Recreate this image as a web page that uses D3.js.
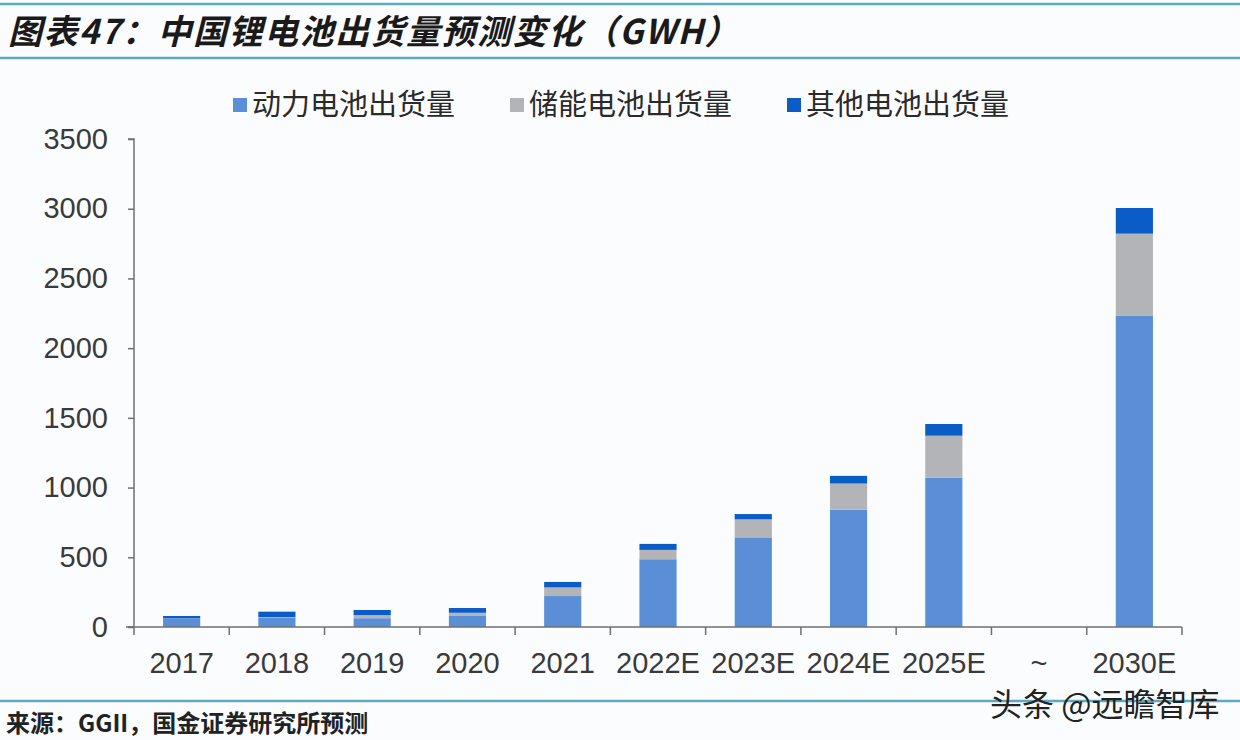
<!DOCTYPE html>
<html>
<head>
<meta charset="utf-8">
<script src="https://cdn.jsdelivr.net/npm/d3@7"></script>
<style>
  html, body { margin: 0; padding: 0; background: #fbfcfe; }
  svg { display: block; }
  text { font-family: "Liberation Sans", Arial, sans-serif; }
  .cjk { font-family: "Noto Sans CJK SC", sans-serif; }
</style>
</head>
<body>
<svg id="chart" width="1240" height="740"></svg>
<script>
const categories = ["2017","2018","2019","2020","2021","2022E","2023E","2024E","2025E","~","2030E"];
const powerBattery   = [58, 65, 63, 83, 222, 486, 643, 842, 1071, null, 2231];
const storageBattery = [3, 6, 22, 19, 62, 67, 129, 187, 301, null, 590];
const otherBattery   = [18, 39, 37, 34, 39, 43, 38, 55, 84, null, 184];
const seriesNames = ["动力电池出货量", "储能电池出货量", "其他电池出货量"];
const seriesColors = ["#5a8fd8", "#b3b4b8", "#0b5cc6"];
const yTicks = [0, 500, 1000, 1500, 2000, 2500, 3000, 3500];

const svg = d3.select("#chart");
const W = 1240, H = 740;
svg.append("rect").attr("width", W).attr("height", H).attr("fill", "#fbfcfe");

// header rules
svg.append("line").attr("x1", 0).attr("x2", W).attr("y1", 4).attr("y2", 4)
  .attr("stroke", "#5aa9c7").attr("stroke-width", 2.5);
svg.append("line").attr("x1", 0).attr("x2", W).attr("y1", 58).attr("y2", 58)
  .attr("stroke", "#5aa9c7").attr("stroke-width", 2.5);
svg.append("line").attr("x1", 0).attr("x2", W).attr("y1", 701).attr("y2", 701)
  .attr("stroke", "#5aa9c7").attr("stroke-width", 2.5);

svg.append("text").attr("class", "cjk")
  .attr("x", 8).attr("y", 44)
  .attr("font-size", 34).attr("font-weight", "bold").attr("font-style", "italic")
  .attr("letter-spacing", 1.5)
  .attr("fill", "#1a1a1a")
  .text("图表47：中国锂电池出货量预测变化（GWH）");

const x = d3.scaleBand().domain(categories).range([134, 1182]).paddingInner(0.61).paddingOuter(0.305);
const y = d3.scaleLinear().domain([0, 3500]).range([627, 139]);

// stack data
const rows = categories.map((c, i) => ({
  cat: c,
  power: powerBattery[i] || 0,
  storage: storageBattery[i] || 0,
  other: otherBattery[i] || 0,
  has: powerBattery[i] != null
}));
const stack = d3.stack().keys(["power", "storage", "other"]);
const stacked = stack(rows);

const g = svg.append("g");
stacked.forEach((layer, li) => {
  g.append("g").attr("fill", seriesColors[li])
    .selectAll("rect").data(layer.filter(d => d.data.has)).join("rect")
    .attr("x", d => x(d.data.cat))
    .attr("width", x.bandwidth())
    .attr("y", d => y(d[1]))
    .attr("height", d => y(d[0]) - y(d[1]));
});

// y axis
const yAxis = d3.axisLeft(y).tickValues(yTicks).tickSize(6).tickPadding(20).tickFormat(d3.format("d"));
const ya = svg.append("g").attr("transform", "translate(134,0)").call(yAxis);
ya.select(".domain").attr("stroke", "#707070").attr("stroke-width", 1.5).attr("d", "M-6,139H0V627H-6");
ya.selectAll(".tick line").attr("stroke", "#707070").attr("stroke-width", 1.5);
ya.selectAll(".tick text").attr("font-size", 29).attr("fill", "#3a3a3a")
  .attr("font-family", "Liberation Sans, Arial, sans-serif");

// x axis
const xa = svg.append("g").attr("transform", "translate(0,627)");
xa.append("line").attr("x1", 126).attr("x2", 1182).attr("y1", 0).attr("y2", 0)
  .attr("stroke", "#707070").attr("stroke-width", 1.5);
const step = x.step();
const bounds = categories.map((c, i) => 134 + i * step).concat([1182]);
xa.selectAll("line.tk").data(bounds).join("line").attr("class", "tk")
  .attr("x1", d => d).attr("x2", d => d).attr("y1", 0).attr("y2", 8)
  .attr("stroke", "#707070").attr("stroke-width", 1.5);
xa.selectAll("text").data(categories).join("text")
  .attr("x", d => x(d) + x.bandwidth() / 2)
  .attr("y", 46)
  .attr("text-anchor", "middle")
  .attr("font-size", 29).attr("fill", "#3a3a3a")
  .text(d => d);

// legend
const legendX = [233, 510, 787];
seriesNames.forEach((n, i) => {
  svg.append("rect").attr("x", legendX[i]).attr("y", 98).attr("width", 14).attr("height", 14)
    .attr("fill", seriesColors[i]);
  svg.append("text").attr("class", "cjk").attr("x", legendX[i] + 19).attr("y", 115)
    .attr("font-size", 29).attr("fill", "#2a2a2a").text(n);
});

// footer
svg.append("text").attr("class", "cjk").attr("x", 6).attr("y", 732)
  .attr("font-size", 24).attr("font-weight", "bold").attr("fill", "#222")
  .text("来源：GGII，国金证券研究所预测");
svg.append("text").attr("class", "cjk").attr("x", 990).attr("y", 716)
  .attr("font-size", 32).attr("fill", "#222")
  .text("头条 @远瞻智库");
</script>
</body>
</html>
